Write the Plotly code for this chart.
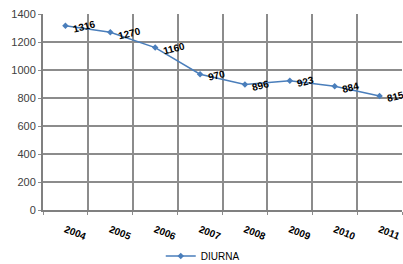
import plotly.graph_objects as go

years = ["2004", "2005", "2006", "2007", "2008", "2009", "2010", "2011"]
diurna = [1316, 1270, 1160, 970, 896, 923, 884, 815]
y_ticks = [0, 200, 400, 600, 800, 1000, 1200, 1400]

LINE = "#4a7ebb"
GRID = "#8c8c8c"
FONT = "Liberation Sans"

fig = go.Figure()
fig.add_trace(go.Scatter(
    x=years, y=diurna, mode="lines+markers", name="DIURNA",
    line=dict(color=LINE, width=1.5),
    marker=dict(symbol="diamond", size=5, color=LINE),
))

for i, v in enumerate(diurna):
    fig.add_annotation(
        x=i, y=v, text="<b>%d</b>" % v, showarrow=False,
        xanchor="left", yanchor="middle", xshift=4, yshift=-1,
        textangle=-14, font=dict(family=FONT, size=10, color="#000000"),
    )

fig.update_layout(
    width=403, height=264,
    margin=dict(l=43, r=1, t=14, b=54, autoexpand=False),
    paper_bgcolor="white", plot_bgcolor="white",
    showlegend=True,
    legend=dict(orientation="h", x=0.445, xanchor="center", y=-0.235, yanchor="middle",
                font=dict(family=FONT, size=10, color="#000000"),
                itemwidth=30),
    font=dict(family=FONT),
)
fig.update_xaxes(
    type="category", range=[-0.5, 7.5], tickson="boundaries", automargin=False,
    showgrid=True, gridcolor=GRID, gridwidth=2,
    showline=True, linecolor="#808080", linewidth=2,
    ticks="outside", ticklen=3, tickcolor=GRID,
    tickangle=22, tickfont=dict(family=FONT, size=10, color="#000000"),
    ticklabelstandoff=8,
    mirror=False, zeroline=False,
)
fig.update_xaxes(tickprefix="<b>", ticksuffix="</b>")
fig.update_yaxes(
    range=[0, 1400], tickvals=y_ticks, automargin=False,
    showgrid=True, gridcolor=GRID, gridwidth=2,
    showline=True, linecolor="#808080", linewidth=2,
    ticks="outside", ticklen=3, tickcolor=GRID,
    tickfont=dict(family=FONT, size=11, color="#404040"),
    zeroline=False,
)

fig.write_html("out.html", config={"displayModeBar": False},
               post_script="document.body.style.margin='0';document.body.style.overflow='hidden';")
